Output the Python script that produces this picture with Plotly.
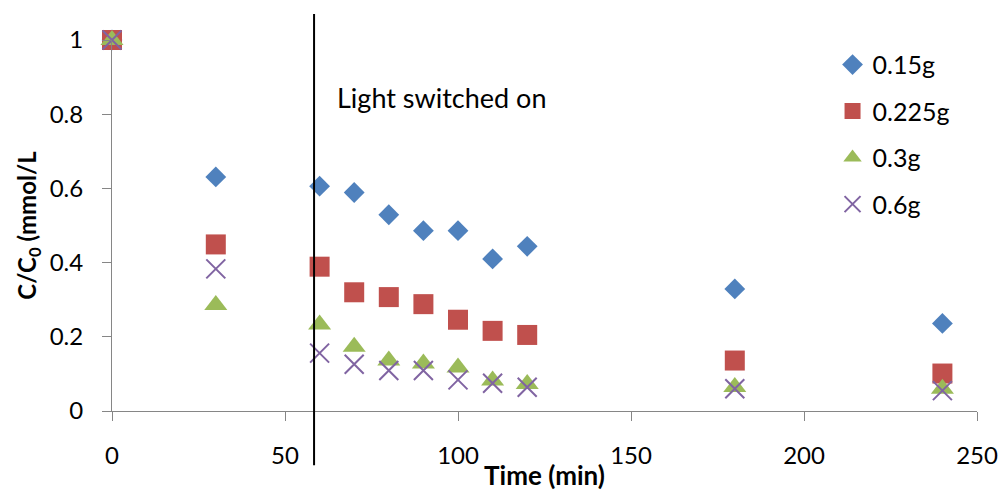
import plotly.graph_objects as go

# Sampling times (min)
time_min = [0, 30, 60, 70, 80, 90, 100, 110, 120, 180, 240]

# Normalised concentration C/C0 for each catalyst dose
c_015 = [1.0, 0.631, 0.606, 0.589, 0.529, 0.486, 0.486, 0.410, 0.444, 0.329, 0.236]
c_0225 = [1.0, 0.449, 0.389, 0.320, 0.307, 0.288, 0.246, 0.216, 0.205, 0.136, 0.101]
c_03 = [1.0, 0.286, 0.233, 0.173, 0.136, 0.128, 0.117, 0.082, 0.073, 0.065, 0.060]
c_06 = [1.0, 0.383, 0.156, 0.126, 0.109, 0.109, 0.084, 0.075, 0.064, 0.060, 0.055]

series_names = ["0.15g", "0.225g", "0.3g", "0.6g"]
light_on_time = 58.4
light_label = "Light switched on"

FONT = "Lato"
AXIS_GREY = "#868686"

styles = [
    dict(symbol="diamond", size=16, color="#4F81BD"),
    dict(symbol="square", size=20, color="#C0504D"),
    dict(symbol="triangle-up", size=20, color="#9BBB59"),
    dict(symbol="x-thin", size=19, color="#8064A2"),
]

fig = go.Figure()
for name, vals, st in zip(series_names, [c_015, c_0225, c_03, c_06], styles):
    marker = dict(symbol=st["symbol"], size=st["size"], color=st["color"])
    if st["symbol"] == "x-thin":
        marker["line"] = dict(color=st["color"], width=2)
    else:
        marker["line"] = dict(width=0)
    fig.add_trace(go.Scatter(
        x=time_min, y=vals, mode="markers", name=name,
        legendgroup=name, marker=marker, cliponaxis=False,
    ))

# Vertical marker for the moment the lamp is turned on
fig.add_shape(type="line", xref="x", yref="paper",
              x0=light_on_time, x1=light_on_time, y0=1.07, y1=-0.146,
              line=dict(color="black", width=2))
fig.add_annotation(x=64.5, y=0.846, xref="x", yref="y", text=light_label,
                   showarrow=False, xanchor="left", yanchor="middle",
                   font=dict(family=FONT, size=27, color="black"))

axis_common = dict(
    showgrid=False, zeroline=False, showline=True,
    linecolor=AXIS_GREY, linewidth=1,
    ticks="outside", ticklen=9, tickcolor=AXIS_GREY, tickwidth=1,
    tickfont=dict(family=FONT, size=24, color="black"),
)

fig.update_xaxes(
    range=[0, 250], tickvals=[0, 50, 100, 150, 200, 250],
    ticklabelstandoff=14,
    title=dict(text="Time (min)", standoff=0,
               font=dict(family=FONT, size=26, color="black", weight="bold")),
    **axis_common,
)
fig.update_yaxes(
    range=[0, 1], tickvals=[0, 0.2, 0.4, 0.6, 0.8, 1],
    ticktext=["0", "0.2", "0.4", "0.6", "0.8", "1"],
    ticklabelstandoff=14,
    title=dict(text="C/C<sub>0</sub> (mmol/L", standoff=6,
               font=dict(family=FONT, size=24, color="black", weight="bold")),
    **axis_common,
)

fig.update_layout(
    width=1005, height=491,
    margin=dict(l=112, r=28, t=40, b=80, autoexpand=False),
    paper_bgcolor="white", plot_bgcolor="white",
    font=dict(family=FONT, color="black"),
    showlegend=True,
    legend=dict(x=0.833, y=0.995, xanchor="left", yanchor="top",
                font=dict(family=FONT, size=25, color="black"),
                tracegroupgap=11, bgcolor="rgba(0,0,0,0)"),
)

fig.write_html("out.html")
